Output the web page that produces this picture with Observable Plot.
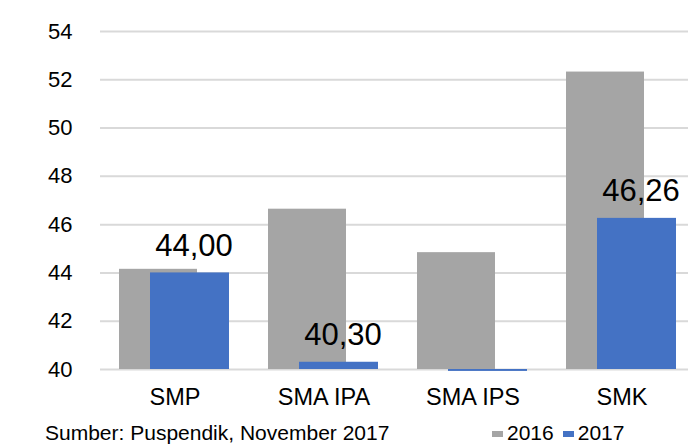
<!DOCTYPE html>
<html>
<head>
<meta charset="utf-8">
<script src="https://cdn.jsdelivr.net/npm/d3@7"></script>
<script src="https://cdn.jsdelivr.net/npm/@observablehq/plot@0.6"></script>
<style>
  html, body { margin: 0; padding: 0; background: #fff; overflow: hidden; width: 688px; height: 446px; }
  body { font-family: "Liberation Sans", Arial, sans-serif; color: #000; }
  #chart svg { display: block; max-width: none !important; }
  .foot { position: relative; margin-top: -5px; height: 21px; font-size: 21px; line-height: 21px; white-space: nowrap; }
  .src { position: absolute; left: 45px; top: 0; }
  .leg { position: absolute; left: 492px; top: 0; }
  .sw { display: inline-block; width: 11px; height: 6px; margin-right: 4px; vertical-align: 3px; }
</style>
</head>
<body>
<div id="chart"></div>
<div class="foot"><span class="src">Sumber: Puspendik, November 2017</span><span class="leg" id="leg"></span></div>
<script>
const categories = ["SMP", "SMA IPA", "SMA IPS", "SMK"];
const values2016 = [44.15, 46.64, 44.84, 52.32];
const values2017 = [44.00, 40.30, 39.92, 46.26];
const yTicks = [40, 42, 44, 46, 48, 50, 52, 54];
const seriesNames = ["2016", "2017"];
const seriesColors = ["#A5A5A5", "#4472C4"];

const d16 = categories.map((c, i) => ({cat: c, v: values2016[i]}));
const d17 = categories.map((c, i) => ({cat: c, v: values2017[i]}));
const fmt = v => v.toFixed(2).replace(".", ",");

const chart = Plot.plot({
  width: 696,
  height: 427,
  marginLeft: 100,
  marginRight: 0,
  marginTop: 31,
  marginBottom: 58,
  style: {fontFamily: "'Liberation Sans', Arial, sans-serif", fontSize: "22px", color: "#000", background: "#fff", overflow: "visible"},
  x: {domain: categories, padding: 0, label: null},
  y: {domain: [40, 54], label: null},
  marks: [
    Plot.ruleY(yTicks, {stroke: "#d9d9d9", strokeWidth: 2}),
    Plot.barY(d16, {x: "cat", y1: 40, y2: "v", fill: seriesColors[0], insetLeft: 19, insetRight: 52}),
    Plot.barY(d17, {x: "cat", y1: 40, y2: "v", fill: seriesColors[1], insetLeft: 50, insetRight: 20}),
    Plot.text(d17.filter(d => d.v >= 40), {x: "cat", y: "v", text: d => fmt(d.v), dx: 19, dy: -17, lineAnchor: "bottom", fontSize: 31, fill: "#000"}),
    Plot.axisY({ticks: yTicks, tickSize: 0, tickPadding: 28, tickFormat: d => d, fontSize: 22}),
    Plot.axisX({tickSize: 0, tickPadding: 19, fontSize: 23.5})
  ]
});
document.getElementById("chart").appendChild(chart);

const leg = document.getElementById("leg");
seriesNames.forEach((n, i) => {
  const s = document.createElement("span");
  s.innerHTML = `<span class="sw" style="background:${seriesColors[i]}"></span>${n}`;
  s.style.marginRight = "9px";
  leg.appendChild(s);
});
</script>
</body>
</html>
